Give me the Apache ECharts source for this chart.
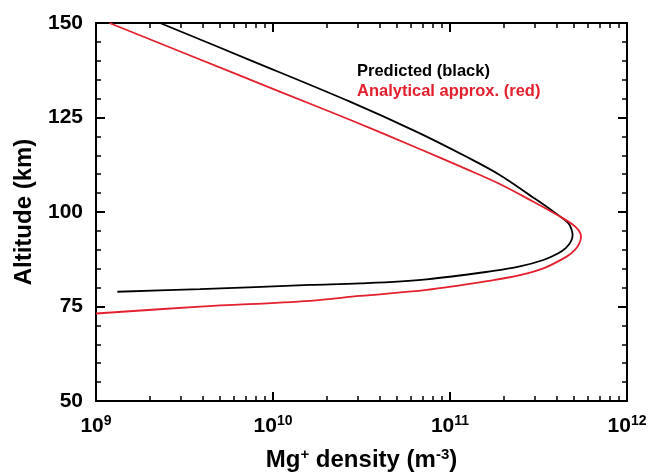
<!DOCTYPE html>
<html>
<head>
<meta charset="utf-8">
<script src="https://cdn.jsdelivr.net/npm/echarts@6/dist/echarts.min.js"></script>
<style>html,body{margin:0;padding:0;background:#fff}#c{width:651px;height:474px}</style>
</head>
<body>
<div id="c"></div>
<script>
// Predicted (black): density (m^-3) and altitude (km)
const predDensity = [1.32e9, 3.87e9, 1.62e10, 3.10e10, 7.38e10, 1.76e11, 2.48e11, 3.37e11, 4.07e11, 4.52e11, 4.83e11, 4.93e11, 4.85e11, 4.67e11, 3.84e11, 2.96e11, 1.91e11, 1.24e11, 6.49e10, 2.72e10, 7.41e9, 2.30e9];
const predAlt     = [78.9, 79.6, 80.7, 81.1, 82.2, 84.4, 85.6, 87.3, 89.0, 90.5, 92.3, 93.9, 95.5, 97.0, 100.1, 103.8, 109.8, 114.6, 121.2, 129.2, 140.2, 150.0];
// Analytical approx. (red)
const anaDensity = [1.0e9, 3.87e9, 1.62e10, 3.10e10, 7.38e10, 1.76e11, 2.48e11, 3.37e11, 4.56e11, 5.08e11, 5.38e11, 5.50e11, 5.32e11, 4.89e11, 4.18e11, 2.96e11, 1.91e11, 1.24e11, 6.49e10, 2.72e10, 1.10e10, 3.40e9, 1.19e9];
const anaAlt     = [73.15, 74.95, 76.5, 77.8, 79.4, 82.0, 83.3, 85.1, 88.2, 90.0, 91.7, 93.6, 95.2, 96.8, 98.8, 102.7, 107.4, 111.35, 117.0, 124.4, 131.8, 141.4, 150.0];

const xMin = 1e9, xMax = 1e12;
const yMin = 50, yMax = 150, yStep = 25;
const decades = [9, 10, 11];
const minorMultipliers = [2, 3, 4, 5, 6, 7, 8, 9];

const FONT = '"Liberation Sans", Arial, Helvetica, sans-serif';
const RED = '#e3202d';

const minorX = [];
decades.forEach(d => minorMultipliers.forEach(m => minorX.push(m * Math.pow(10, d))));

const predData = predDensity.map((v, i) => [v, predAlt[i]]);
const anaData = anaDensity.map((v, i) => [v, anaAlt[i]]);

const lineStyleAxis = { color: '#000', width: 2 };

function xAxisBase(pos) {
  return {
    type: 'log', logBase: 10, min: xMin, max: xMax, position: pos,
    splitLine: { show: false },
    axisLine: { show: true, onZero: false, lineStyle: lineStyleAxis },
    axisTick: { show: true, inside: true, length: 9, lineStyle: { color: '#000', width: 2 } },
    axisLabel: { show: false }
  };
}
function xMinorAxis(pos) {
  return {
    type: 'log', logBase: 10, min: xMin, max: xMax, position: pos,
    splitLine: { show: false },
    axisLine: { show: false },
    axisTick: { show: true, inside: true, length: 5, customValues: minorX, lineStyle: { color: '#000', width: 1.5 } },
    axisLabel: { show: false }
  };
}
const xBottom = xAxisBase('bottom');
xBottom.axisLabel = {
  show: true, margin: 13,
  formatter: v => '{b|10}{s|' + Math.round(Math.log10(v)) + '}',
  rich: {
    b: { fontSize: 21, fontWeight: 'bold', fontFamily: FONT, color: '#000' },
    s: { fontSize: 14, fontWeight: 'bold', fontFamily: FONT, color: '#000', padding: [0, 0, 10, 0] }
  }
};
xBottom.name = 'Mg{s|+} density (m{s|-3})';
xBottom.nameLocation = 'middle';
xBottom.nameGap = 46;
xBottom.nameTextStyle = {
  fontSize: 24, fontWeight: 'bold', fontFamily: FONT, color: '#000',
  rich: {
    s: { fontSize: 15, fontWeight: 'bold', fontFamily: FONT, color: '#000', padding: [0, 0, 11, 0] }
  }
};

function yAxisBase(pos, labels) {
  return {
    type: 'value', min: yMin, max: yMax, interval: yStep, position: pos,
    splitLine: { show: false },
    axisLine: { show: true, onZero: false, lineStyle: lineStyleAxis },
    axisTick: { show: true, inside: true, length: 9, lineStyle: { color: '#000', width: 2 } },
    minorTick: { show: true, splitNumber: 5, length: 5, lineStyle: { color: '#000', width: 1.5 } },
    axisLabel: labels ? { show: true, margin: 13, fontSize: 21, fontWeight: 'bold', fontFamily: FONT, color: '#000' } : { show: false }
  };
}
const yLeft = yAxisBase('left', true);
yLeft.name = 'Altitude (km)';
yLeft.nameLocation = 'middle';
yLeft.nameGap = 60;
yLeft.nameTextStyle = { fontSize: 24, fontWeight: 'bold', fontFamily: FONT, color: '#000' };

const option = {
  backgroundColor: '#fff',
  animation: false,
  grid: { left: 96, right: 24, top: 23, bottom: 73, containLabel: false, outerBoundsMode: 'none' },
  xAxis: [xBottom, xMinorAxis('bottom'), xAxisBase('top'), xMinorAxis('top')],
  yAxis: [yLeft, yAxisBase('right', false)],
  series: [
    { type: 'line', xAxisIndex: 0, yAxisIndex: 0, data: predData, showSymbol: false, smooth: 0.35, clip: true,
      lineStyle: { color: '#000', width: 1.8 } },
    { type: 'line', xAxisIndex: 0, yAxisIndex: 0, data: anaData, showSymbol: false, smooth: 0.35, clip: true,
      lineStyle: { color: RED, width: 1.8 } }
  ],
  graphic: [
    { type: 'text', left: 357, top: 63, style: { text: 'Predicted (black)', fill: '#000', font: 'bold 16.5px ' + FONT } },
    { type: 'text', left: 357, top: 83, style: { text: 'Analytical approx. (red)', fill: RED, font: 'bold 16.5px ' + FONT } }
  ]
};

const chart = echarts.init(document.getElementById('c'), null, { renderer: 'canvas' });
chart.setOption(option);
</script>
</body>
</html>
